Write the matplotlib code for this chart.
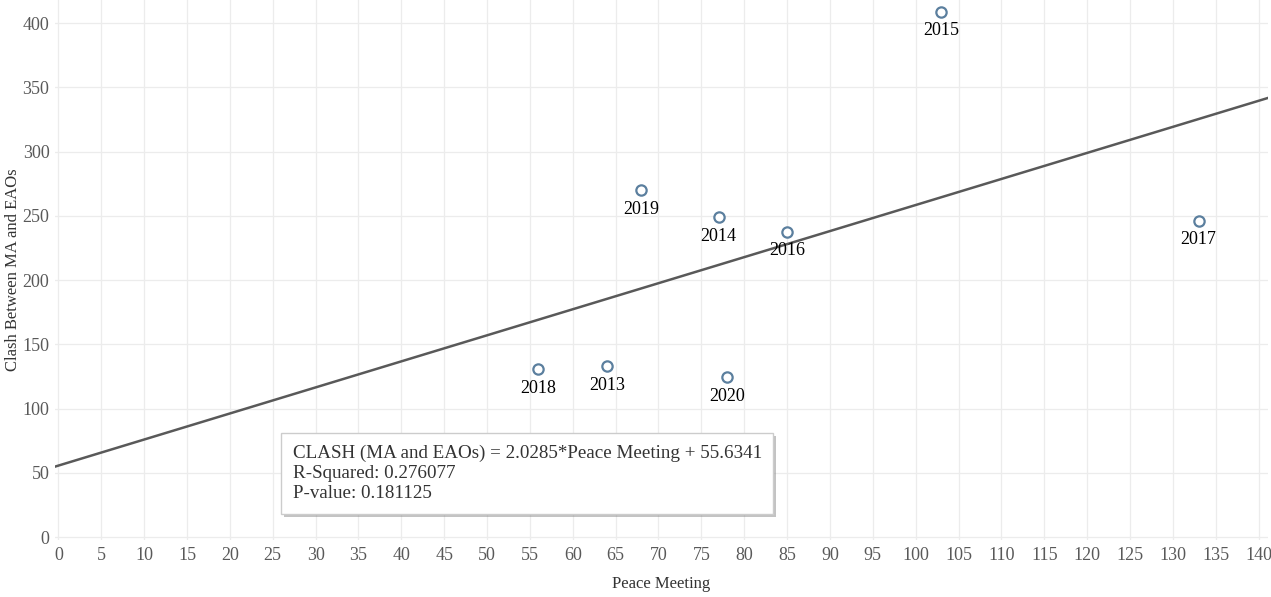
import numpy as np
import matplotlib
matplotlib.use("Agg")
import matplotlib.pyplot as plt
import matplotlib.patheffects as pe

# ===============================
# Data
# ===============================
years = ["2013", "2014", "2015", "2016", "2017", "2018", "2019", "2020"]
peace_meeting = [64, 77, 103, 85, 133, 56, 68, 78]
clash = [133, 249, 409, 237.5, 246, 130.5, 270, 124.5]

slope = 2.0285
intercept = 55.6341
r_squared = 0.276077
p_value = 0.181125

x_ticks = list(range(0, 145, 5))
y_ticks = list(range(0, 450, 50))

# ===============================
# Plot
# ===============================
plt.rcParams["font.family"] = ["Liberation Serif", "DejaVu Serif"]

fig = plt.figure(figsize=(12.71, 5.97), dpi=100)
ax = fig.add_axes([55 / 1271, 1 - 540 / 597, 1213 / 1271, 540 / 597])

ax.set_xlim(-0.4, 141.1)
ax.set_ylim(-2.3, 418.1)

# trend line
xl = np.array(ax.get_xlim())
ax.plot(xl, intercept + slope * xl, color="#595959", lw=1.8, zorder=3)

# points
ax.scatter(peace_meeting, clash, s=55, facecolors="white",
           edgecolors="#5b7f9e", linewidths=1.6, zorder=4)
for x, y, lab in zip(peace_meeting, clash, years):
    ax.annotate(lab, (x, y), xytext=(0, -7.5), textcoords="offset points",
                ha="center", va="top", fontsize=13, color="black", zorder=5)

# grid and axes style
ax.set_xticks(x_ticks)
ax.set_yticks(y_ticks)
ax.grid(True, color="#ececec", lw=0.9)
ax.set_axisbelow(True)
for s in ax.spines.values():
    s.set_visible(False)
ax.tick_params(axis="both", length=0, labelsize=13, labelcolor="#595959")
ax.tick_params(axis="x", pad=5)
ax.tick_params(axis="y", pad=4)

ax.set_xlabel("Peace Meeting", fontsize=12, color="#333333")
ax.set_ylabel("Clash Between MA and EAOs", fontsize=12, color="#333333")
ax.xaxis.set_label_coords(0.5, -0.066)
ax.yaxis.set_label_coords(-0.028, 0.5)

# regression box
txt = (f"CLASH (MA and EAOs) = {slope}*Peace Meeting + {intercept}\n"
       f"R-Squared: {r_squared}\nP-value: {p_value}")
t = ax.text(0.196, 0.123, txt, transform=ax.transAxes, ha="left", va="center",
            fontsize=13.7, color="#333333", linespacing=1.25, zorder=6,
            bbox=dict(boxstyle="square,pad=0.6", facecolor="white",
                      edgecolor="#cccccc", lw=1))
t.get_bbox_patch().set_path_effects([
    pe.SimplePatchShadow(offset=(2, -2), shadow_rgbFace="#888888", alpha=0.5),
    pe.Normal()])

fig.savefig("out.png", dpi=100)
